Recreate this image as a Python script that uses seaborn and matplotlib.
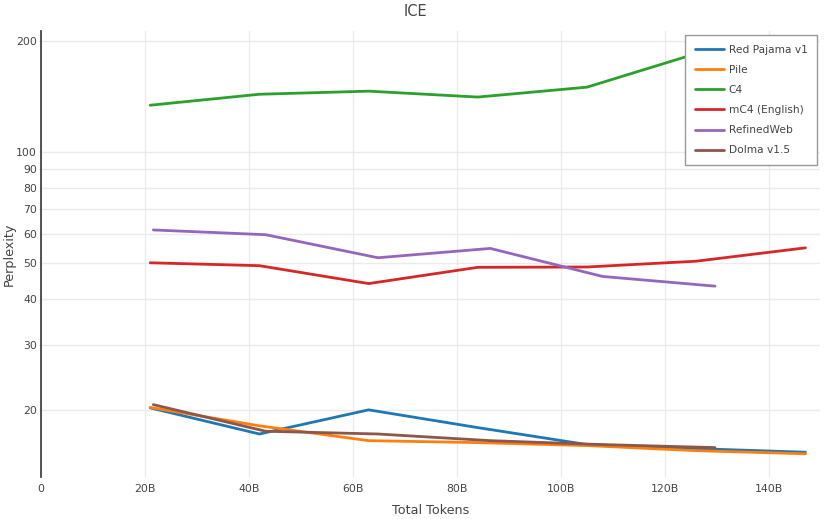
import matplotlib
matplotlib.use("Agg")
import matplotlib.pyplot as plt
import seaborn as sns
import pandas as pd
from matplotlib.ticker import FixedLocator, FixedFormatter, NullLocator

series_names = ["Red Pajama v1", "Pile", "C4", "mC4 (English)", "RefinedWeb", "Dolma v1.5"]
colors = ["#1f77b4", "#ff7f0e", "#2ca02c", "#d62728", "#9467bd", "#8c564b"]

tokens_a = [21, 42, 63, 84, 105, 126, 147]
tokens_b = [21.6, 43.2, 64.8, 86.4, 108, 129.6]

red_pajama = [20.25, 17.2, 20.0, 17.9, 16.1, 15.7, 15.35]
pile = [20.3, 18.1, 16.5, 16.3, 16.0, 15.5, 15.2]
c4 = [134.0, 143.5, 146.3, 141.0, 150.0, 185.0, 196.0]
mc4 = [50.1, 49.2, 44.0, 48.7, 48.8, 50.6, 55.0]
refinedweb = [61.5, 59.7, 51.7, 54.8, 46.0, 43.3]
dolma = [20.66, 17.5, 17.2, 16.5, 16.1, 15.8]

y_ticks = [20, 30, 40, 50, 60, 70, 80, 90, 100, 200]
x_ticks = [0, 20, 40, 60, 80, 100, 120, 140]
x_tick_labels = ["0", "20B", "40B", "60B", "80B", "100B", "120B", "140B"]

rows = []
for name, xs, ys in [
    ("Red Pajama v1", tokens_a, red_pajama),
    ("Pile", tokens_a, pile),
    ("C4", tokens_a, c4),
    ("mC4 (English)", tokens_a, mc4),
    ("RefinedWeb", tokens_b, refinedweb),
    ("Dolma v1.5", tokens_b, dolma),
]:
    for x, y in zip(xs, ys):
        rows.append({"Total Tokens": x, "Perplexity": y, "Dataset": name})
df = pd.DataFrame(rows)

sns.set_theme(style="white")
plt.rcParams["font.family"] = ["DejaVu Sans"]

fig = plt.figure(figsize=(8.3, 5.19), dpi=100)
ax_bottom, ax_top, ax_left, ax_right = 477, 31, 41, 820
ax = fig.add_axes([ax_left / 830, 1 - ax_bottom / 519, (ax_right - ax_left) / 830, (ax_bottom - ax_top) / 519])

sns.lineplot(data=df, x="Total Tokens", y="Perplexity", hue="Dataset",
             hue_order=series_names, palette=colors, linewidth=2.0,
             estimator=None, sort=False, ax=ax, legend=True)

ax.set_yscale("log")
ax.set_ylim(13.15, 213)
ax.set_xlim(0, 149.8)
ax.yaxis.set_major_locator(FixedLocator(y_ticks))
ax.yaxis.set_major_formatter(FixedFormatter([str(t) for t in y_ticks]))
ax.yaxis.set_minor_locator(NullLocator())
ax.xaxis.set_major_locator(FixedLocator(x_ticks))
ax.xaxis.set_major_formatter(FixedFormatter(x_tick_labels))

ax.grid(True, color="#ebebeb", linewidth=1.0)
ax.set_axisbelow(True)
for s in ["top", "right", "bottom"]:
    ax.spines[s].set_visible(False)
ax.spines["left"].set_color("#444444")
ax.spines["left"].set_linewidth(1.3)
ax.tick_params(axis="both", length=0, labelsize=7.8, colors="#444444")
ax.tick_params(axis="x", pad=5)
ax.tick_params(axis="y", pad=3)
ax.set_xlabel("Total Tokens", fontsize=9.2, color="#444444", va="center")
ax.set_ylabel("Perplexity", fontsize=9.2, color="#444444", va="center")
ax.xaxis.set_label_coords(0.5, (ax_bottom - 510) / (ax_bottom - ax_top))
ax.yaxis.set_label_coords((9 - ax_left) / (ax_right - ax_left), 0.5)

fig.suptitle("ICE", x=0.5, y=1 - 4 / 519, fontsize=10.5, color="#444444", va="top")

handles, labels = ax.get_legend_handles_labels()
leg = ax.legend(handles, labels, loc="upper left",
                bbox_to_anchor=(685 / 830, 1 - 35 / 519), bbox_transform=fig.transFigure,
                frameon=True, fontsize=7.7, handlelength=2.7, handletextpad=0.5,
                labelspacing=0.95, borderpad=0.9, fancybox=False, framealpha=1.0,
                borderaxespad=0)
leg.get_frame().set_edgecolor("#999999")
leg.get_frame().set_linewidth(1.0)
for t in leg.get_texts():
    t.set_color("#444444")
for l in leg.get_lines():
    l.set_linewidth(2.0)

fig.savefig("out.png", dpi=100)
